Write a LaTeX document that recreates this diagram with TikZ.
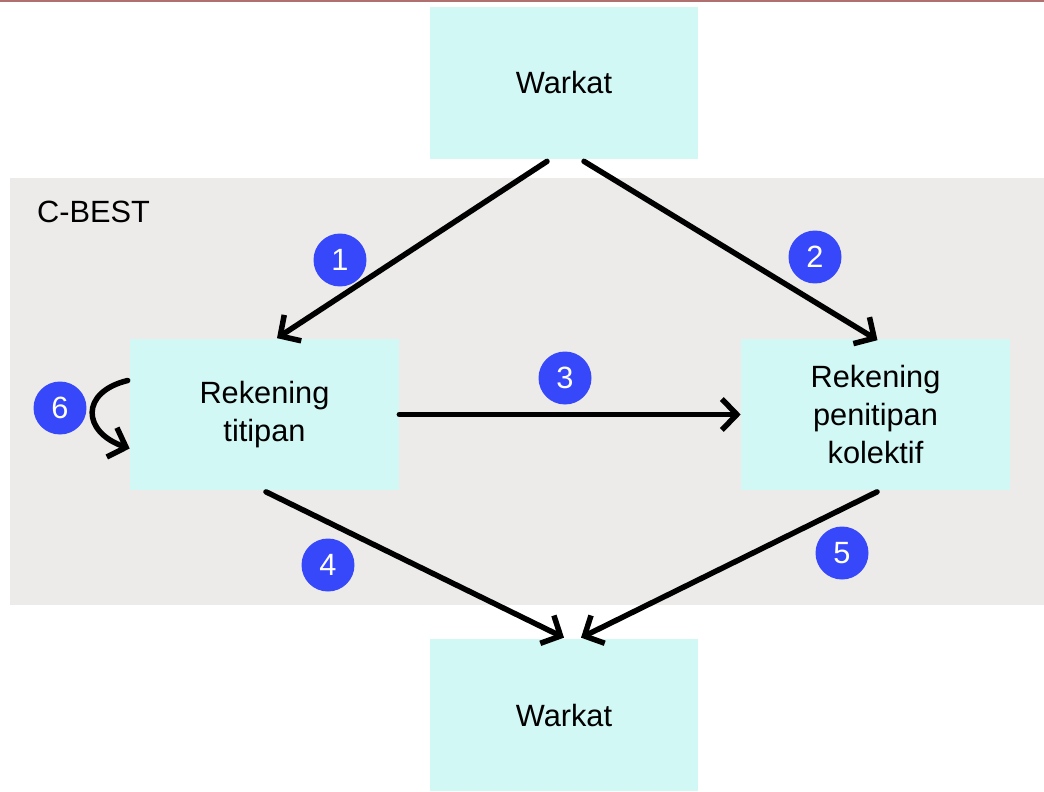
\documentclass[tikz,border=0pt]{standalone}
\usepackage{fontspec}
\setmainfont{Liberation Sans}
\usetikzlibrary{arrows.meta,calc}
\definecolor{boxcyan}{RGB}{210,248,246}
\definecolor{zonegray}{RGB}{237,235,234}
\definecolor{badgeblue}{RGB}{55,72,250}
\definecolor{topred}{RGB}{176,112,112}
\begin{document}
\begin{tikzpicture}[x=0.02cm,y=-0.02cm,
  box/.style={fill=boxcyan,inner sep=0pt,minimum width=5.38cm,minimum height=3.04cm,align=center,font=\fontsize{17.5}{21.5}\selectfont},
  badge/.style={circle,fill=badgeblue,text=white,inner sep=0pt,minimum size=1.06cm,font=\fontsize{17.5}{20}\selectfont},
  flow/.style={line width=0.11cm,line cap=round,-{Straight Barb[length=0.3cm,width=0.62cm,line width=0.11cm]}}]
\useasboundingbox (0,0) rectangle (1044,791);
\fill[zonegray] (10,178) rectangle (1044,605);
\draw[topred,line width=0.04cm] (0,1) -- (1044,1);
\node[anchor=west,font=\fontsize{17.5}{20}\selectfont] (cbest) at (31,212) {C-BEST};
   \node[box] (wtop) at (564,83) {Warkat};
   \node[box] (titipan) at (264.5,414.5) {Rekening\\titipan};
   \node[box] (kolektif) at (875.5,414.5) {Rekening\\penitipan\\kolektif};
   \node[box] (wbot) at (564,715) {Warkat};
\draw[flow] ($(wtop.south)+(-17,2)$) -- ($(titipan.north)+(12.5,0)$);
\draw[flow] ($(wtop.south)+(20,2)$) -- ($(kolektif.north)+(2,2)$);
\draw[flow] (titipan.east) -- (kolektif.west);
\draw[flow] ($(titipan.south)+(1.5,1)$) -- ($(wbot.north)+(0,-1)$);
\draw[flow] ($(kolektif.south)+(1.5,1)$) -- ($(wbot.north)+(17,-1)$);
\draw[flow] ($(titipan.west)+(-2,-34)$) .. controls (80,392) and (82,432) .. ($(titipan.west)+(0,34)$);
   \node[badge] (b1) at (340,260) {1};
   \node[badge] (b2) at (815,257) {2};
   \node[badge] (b3) at (565,378) {3};
   \node[badge] (b4) at (328,565) {4};
   \node[badge] (b5) at (842,553) {5};
   \node[badge] (b6) at (60,408) {6};
\end{tikzpicture}
\end{document}
